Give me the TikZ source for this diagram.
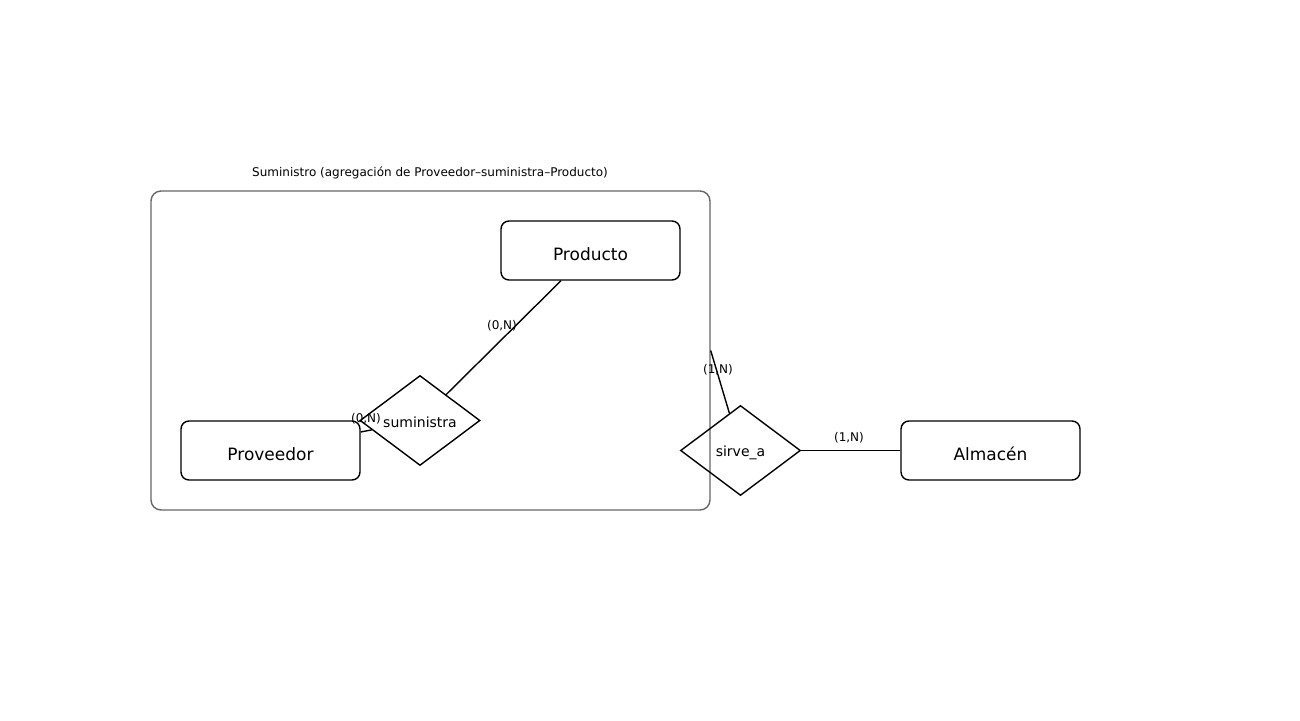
\documentclass[tikz,border=0pt]{standalone}
\usepackage{fontspec}
\setmainfont{DejaVu Sans}
\usetikzlibrary{shapes.geometric}
\begin{document}
\begin{tikzpicture}[x=1pt,y=-1pt,
  entity/.style={draw=black,line width=1.4pt,rounded corners=8pt,minimum width=179pt,minimum height=59pt,inner sep=0pt,
    label={[font=\fontsize{17}{20}\selectfont,yshift=-3.5pt,inner sep=0pt]center:#1}},
  rel/.style={draw=black,line width=1.4pt,diamond,minimum width=120pt,minimum height=90pt,inner sep=0pt,
    label={[font=\fontsize{14}{16}\selectfont,yshift=-2pt,inner sep=0pt]center:#1}},
  aggbox/.style={draw=black!60,line width=1.4pt,rounded corners=10pt,minimum width=559pt,minimum height=319pt,inner sep=0pt},
  conn/.style={draw=black,line width=1.4pt},
  lbl/.style={font=\fontsize{12}{14}\selectfont,inner sep=0pt}]
\useasboundingbox (0,0) rectangle (1300,720);
\node[aggbox] (agg) at (430.5,350.5) {};
\node[lbl] (title) at (430,173) {Suministro (agregación de Proveedor–suministra–Producto)};
\node[entity=Producto] (prod) at (590.5,250.5) {};
\node[entity=Proveedor] (prov) at (270.5,450.5) {};
\node[entity=Almacén] (alm) at (990.5,450.5) {};
\node[rel=suministra] (sum) at (420,420.5) {};
\node[rel=sirve\_a] (sirve) at (740.5,450.5) {};
\draw[conn] ([xshift=-29.5pt]prod.south) -- (sum);
\draw[conn] ([yshift=18.5pt]prov.east) -- (sum);
\draw[conn] (agg.east) -- (sirve);
\draw[conn] (sirve) -- (alm);
\node[lbl] (l1) at (502,325.5) {(0,N)};
\node[lbl] (l2) at (366,419) {(0,N)};
\node[lbl] (l3) at (718,370) {(1,N)};
\node[lbl] (l4) at (849,438) {(1,N)};
\end{tikzpicture}
\end{document}
